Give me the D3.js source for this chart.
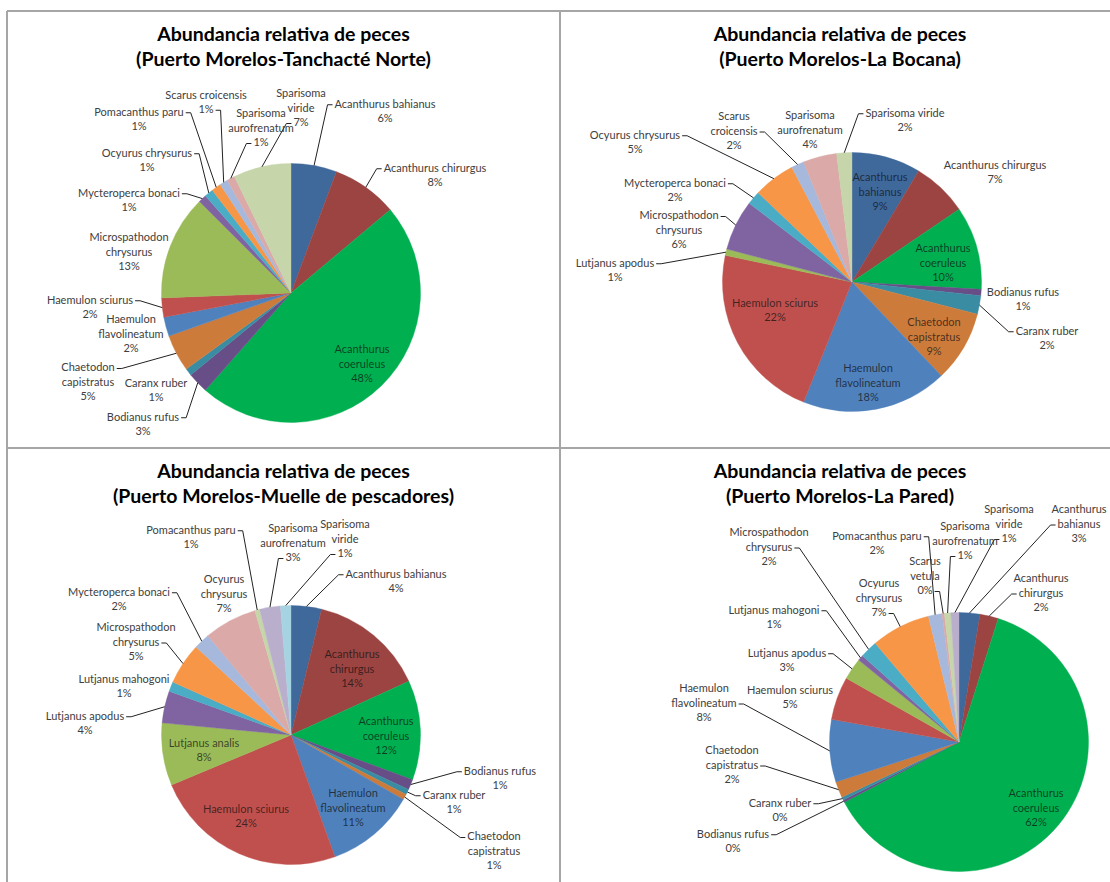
<!DOCTYPE html>
<html>
<head>
<meta charset="utf-8">
<script src="https://cdn.jsdelivr.net/npm/d3@7"></script>
<style>
  body { margin: 0; background: #fff; }
  svg { display: block; }
  .title { font-family: Lato, "Open Sans", sans-serif; font-weight: 700; font-size: 19.5px; fill: #000; }
  .lbl { font-family: Lato, "Open Sans", sans-serif; font-size: 11px; }
  .lbl.out { fill: #404040; }
  .lbl.in { fill: #111; fill-opacity: 0.72; }
  .leader { fill: none; stroke: #222; stroke-width: 1; }
  .frame { stroke: #a6a6a6; stroke-width: 2; }
</style>
</head>
<body>
<svg id="chart" width="1110" height="882"></svg>
<script>
// ---- data: relative abundance (%) per site, slices in series order ----
const titleLine1 = "Abundancia relativa de peces";
const siteNames = [
  "(Puerto Morelos-Tanchacté Norte)",
  "(Puerto Morelos-La Bocana)",
  "(Puerto Morelos-Muelle de pescadores)",
  "(Puerto Morelos-La Pared)"
];

const speciesTanchacte = [
  "Acanthurus bahianus", "Acanthurus chirurgus", "Acanthurus coeruleus", "Bodianus rufus",
  "Caranx ruber", "Chaetodon capistratus", "Haemulon flavolineatum", "Haemulon sciurus",
  "Microspathodon chrysurus", "Mycteroperca bonaci", "Ocyurus chrysurus", "Pomacanthus paru",
  "Scarus croicensis", "Sparisoma aurofrenatum", "Sparisoma viride"
];
const valuesTanchacte = [5.7, 8.2, 47.6, 2.6, 0.9, 4.6, 2.4, 2.4, 13.1, 1.0, 1.1, 1.2, 1.0, 1.0, 7.2];

const speciesBocana = [
  "Acanthurus bahianus", "Acanthurus chirurgus", "Acanthurus coeruleus", "Bodianus rufus",
  "Caranx ruber", "Chaetodon capistratus", "Haemulon flavolineatum", "Haemulon sciurus",
  "Lutjanus apodus", "Microspathodon chrysurus", "Mycteroperca bonaci", "Ocyurus chrysurus",
  "Scarus croicensis", "Sparisoma aurofrenatum", "Sparisoma viride"
];
const valuesBocana = [8.6, 6.9, 10.4, 0.8, 2.3, 8.9, 18.2, 22.2, 0.8, 6.3, 1.7, 5.2, 1.6, 4.2, 1.9];

const speciesMuelle = [
  "Acanthurus bahianus", "Acanthurus chirurgus", "Acanthurus coeruleus", "Bodianus rufus",
  "Caranx ruber", "Chaetodon capistratus", "Haemulon flavolineatum", "Haemulon sciurus",
  "Lutjanus analis", "Lutjanus apodus", "Lutjanus mahogoni", "Microspathodon chrysurus",
  "Mycteroperca bonaci", "Ocyurus chrysurus", "Pomacanthus paru", "Sparisoma aurofrenatum",
  "Sparisoma viride"
];
const valuesMuelle = [3.8, 14.4, 12.4, 1.3, 0.7, 0.7, 11.2, 24.2, 7.8, 4.0, 1.2, 5.2, 2.0, 6.6, 0.6, 2.6, 1.3];

const speciesPared = [
  "Acanthurus bahianus", "Acanthurus chirurgus", "Acanthurus coeruleus", "Bodianus rufus",
  "Caranx ruber", "Chaetodon capistratus", "Haemulon flavolineatum", "Haemulon sciurus",
  "Lutjanus apodus", "Lutjanus mahogoni", "Microspathodon chrysurus", "Ocyurus chrysurus",
  "Pomacanthus paru", "Scarus vetula", "Sparisoma aurofrenatum", "Sparisoma viride"
];
const valuesPared = [2.6, 2.3, 62.4, 0.3, 0.4, 2.0, 7.8, 5.4, 2.7, 0.7, 2.2, 7.4, 1.7, 0.3, 0.8, 1.0];

// ---- styling: slice colours by series position ----
const palette = [
  "#3f689b", "#9b4441", "#00b050", "#674e86", "#3a8ca3", "#cd7b3b",
  "#4f81bd", "#c0504d", "#9bbb59", "#8064a2", "#4bacc6", "#f79646",
  "#a6b8db", "#daa9a8", "#c6d5aa", "#b9aecb", "#a6d3e1"
];

// ---- label layout: [dx, dy] of the label block from the pie centre, plus flags
//      w = name on two lines, l = leader line, i = label sits on the slice,
//      a digit = leader attaches to that text line ----
const layoutTanchacte = [
  [94, -182, "l"], [144, -118, "l"], [71, 71, "wi"], [-148, 131, "l"],
  [-135, 97, ""], [-203, 89, "wl"], [-160, 41, "w"], [-201, 14, "l"],
  [-162, -41, "w"], [-162, -93, "l"], [-144, -133, "l"], [-152, -174, "l"],
  [-85, -191, "l"], [-30, -165, "wl"], [10, -185, "wl"]
];
const layoutBocana = [
  [28, -90, "wi"], [143, -110, ""], [91, -19, "wi"], [171, 17, ""],
  [195, 56, "l"], [82, 55, "wi"], [16, 101, "wi"], [-77, 28, "i"],
  [-237, -12, "l"], [-173, -52, "wl1"], [-177, -92, "l"], [-217, -140, "l"],
  [-118, -151, "wl"], [-42, -152, "w"], [53, -162, "l"]
];
const layoutMuelle = [
  [105, -154, "l"], [61, -66, "wi"], [95, 1, "wi"], [209, 43, "l"],
  [163, 67, "l"], [203, 116, "wl"], [62, 73, "wi"], [-45, 81, "i"],
  [-87, 15, "i"], [-206, -12, "l"], [-167, -49, ""], [-155, -93, "wl2"],
  [-172, -136, "l"], [-67, -141, "w"], [-100, -198, "l"], [2, -192, "wl"],
  [54, -196, "wl"]
];
const layoutPared = [
  [120, -218, "wl"], [82, -149, "wl"], [77, 66, "wi"], [-226, 99, "l"],
  [-179, 68, "l"], [-227, 23, "wl"], [-255, -39, "wl"], [-169, -45, ""],
  [-172, -82, "l"], [-185, -125, "l"], [-190, -195, "wl2"], [-80, -144, "wl"],
  [-82, -199, "l"], [-34, -166, "wl"], [6, -201, "wl"], [50, -218, "wl"]
];

// ---- page geometry ----
const frameX = [7, 560, 1120];
const frameY = [11, 448, 885];
const R = 129.5;
const LH = 14.5;

const panels = [
  { sub: siteNames[0], species: speciesTanchacte, values: valuesTanchacte, layout: layoutTanchacte, col: 0, row: 0, cx: 291, cy: 293 },
  { sub: siteNames[1], species: speciesBocana,    values: valuesBocana,    layout: layoutBocana,    col: 1, row: 0, cx: 852, cy: 282 },
  { sub: siteNames[2], species: speciesMuelle,    values: valuesMuelle,    layout: layoutMuelle,    col: 0, row: 1, cx: 291, cy: 735 },
  { sub: siteNames[3], species: speciesPared,     values: valuesPared,     layout: layoutPared,     col: 1, row: 1, cx: 959, cy: 742 }
];

const svg = d3.select("#chart");

// panel frames
const frame = svg.append("g");
frame.append("line").attr("class", "frame").attr("x1", frameX[0]).attr("x2", 1110).attr("y1", frameY[0]).attr("y2", frameY[0]);
frame.append("line").attr("class", "frame").attr("x1", frameX[0]).attr("x2", 1110).attr("y1", frameY[1]).attr("y2", frameY[1]);
frame.append("line").attr("class", "frame").attr("x1", frameX[0]).attr("x2", frameX[0]).attr("y1", frameY[0]).attr("y2", 882);
frame.append("line").attr("class", "frame").attr("x1", frameX[1]).attr("x2", frameX[1]).attr("y1", frameY[0]).attr("y2", 882);

const pct = v => d3.format(".0f")(v) + "%";
const pie = d3.pie().sort(null).value(d => d.value);
const arc = d3.arc().innerRadius(0).outerRadius(R);

panels.forEach(p => {
  const left = frameX[p.col], right = frameX[p.col + 1];
  const top = frameY[p.row];
  const midX = (left + right) / 2;

  const title = svg.append("text").attr("class", "title").attr("text-anchor", "middle");
  title.append("tspan").attr("x", midX).attr("y", top + 29.5).text(titleLine1);
  title.append("tspan").attr("x", midX).attr("y", top + 54.5).text(p.sub);

  const g = svg.append("g").attr("transform", `translate(${p.cx},${p.cy})`);
  const data = p.species.map((name, i) => ({ name, value: p.values[i] }));
  const arcs = pie(data);

  g.selectAll("path.slice")
    .data(arcs)
    .join("path")
    .attr("class", "slice")
    .attr("d", arc)
    .attr("fill", (d, i) => palette[i])
    .attr("stroke", (d, i) => palette[i])
    .attr("stroke-width", 0.4);

  const leaders = g.append("g");
  const labels = g.append("g");

  arcs.forEach((a, i) => {
    const [dx, dy, flags] = p.layout[i];
    const words = a.data.name.split(" ");
    const lines = flags.includes("w") ? [words[0], words.slice(1).join(" ")] : [a.data.name];
    lines.push(pct(a.data.value));
    const n = lines.length;
    const lineY = k => dy + (k - (n - 1) / 2) * LH;
    const fixed = flags.match(/\d/);
    const onlyLine = fixed ? +fixed[0] - 1 : -1;

    const t = labels.append("text")
      .attr("class", flags.includes("i") ? "lbl in" : "lbl out")
      .attr("text-anchor", "middle");
    const spans = lines.map((s, k) =>
      t.append("tspan").attr("x", dx).attr("y", lineY(k)).attr("dy", "0.35em").text(s));

    if (flags.includes("l")) {
      const mid = (a.startAngle + a.endAngle) / 2;
      const px = R * Math.sin(mid), py = -R * Math.cos(mid);
      let best = null;
      spans.forEach((sp, k) => {
        if (onlyLine >= 0 && k !== onlyLine) return;
        const w = sp.node().getComputedTextLength();
        const ly = lineY(k) + 1;
        [-1, 1].forEach(side => {
          const ex = dx + side * (w / 2 + 2);
          const dist = Math.hypot(px - ex, py - ly);
          if (!best || dist < best.dist) best = { ex, ly, side, dist };
        });
      });
      const elbow = best.ex + best.side * 5;
      leaders.append("path")
        .attr("class", "leader")
        .attr("d", `M${best.ex},${best.ly}H${elbow}L${px},${py}`);
    }
  });
});
</script>
</body>
</html>
